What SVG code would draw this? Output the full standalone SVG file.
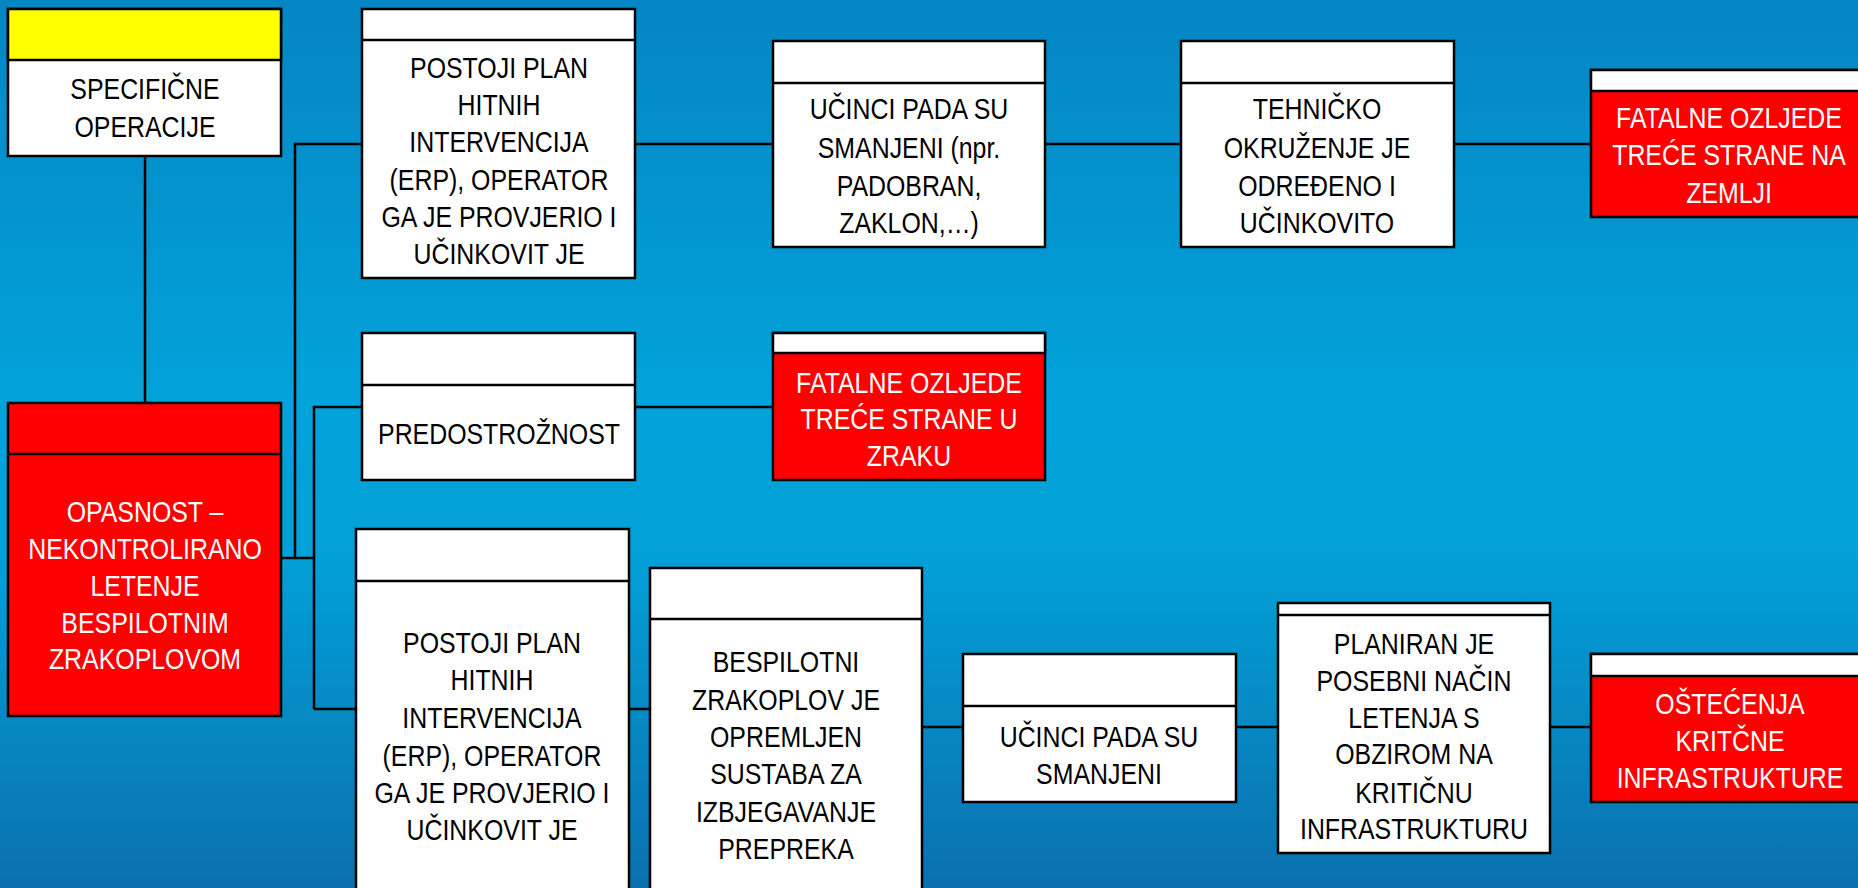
<svg xmlns="http://www.w3.org/2000/svg" width="1858" height="888" viewBox="0 0 1858 888">
<defs>
<linearGradient id="bg" x1="0" y1="0" x2="0" y2="1">
<stop offset="0" stop-color="#0585C3"/>
<stop offset="0.45" stop-color="#02A3DA"/>
<stop offset="0.62" stop-color="#02A1D8"/>
<stop offset="1" stop-color="#0A70AE"/>
</linearGradient>
</defs>
<style>
.box{stroke:#000;stroke-width:2.5}
.w{fill:#fff}.r{fill:#f00}.y{fill:#ff0}
.t{font-family:"Liberation Sans",Arial,sans-serif;font-size:30px;text-anchor:middle;fill:#000}
.tw{fill:#fff}
.c{stroke:#000;stroke-width:2.5;fill:none}
</style>
<rect width="1858" height="888" fill="url(#bg)"/>
<g id="connectors">
<path class="c" d="M145 156V403"/>
<path class="c" d="M281 558H314M295 558V144H362"/>
<path class="c" d="M314 709V407H362M314 709H356"/>
<path class="c" d="M635 144H773M1045 144H1181M1454 144H1591"/>
<path class="c" d="M635 407H773"/>
<path class="c" d="M629 709H650"/>
<path class="c" d="M922 727H963M1236 727H1278M1550 727H1591"/>
</g>
<g id="n_specificne">
<rect class="box w" x="8" y="9" width="273" height="147"/>
<rect class="box y" x="8" y="9" width="273" height="51"/>
<text class="t" transform="translate(145 0) scale(0.83 1)"><tspan x="0" y="99">SPECIFIČNE</tspan><tspan x="0" y="137">OPERACIJE</tspan></text>
</g>
<g id="n_opasnost">
<rect class="box r" x="8" y="403" width="273" height="313"/>
<line class="box" x1="8" y1="454" x2="281" y2="454"/>
<text class="t tw" transform="translate(145 0) scale(0.83 1)"><tspan x="0" y="522">OPASNOST –</tspan><tspan x="0" y="559">NEKONTROLIRANO</tspan><tspan x="0" y="596">LETENJE</tspan><tspan x="0" y="633">BESPILOTNIM</tspan><tspan x="0" y="669">ZRAKOPLOVOM</tspan></text>
</g>
<g id="n_postoji1">
<rect class="box w" x="362" y="9" width="273" height="269"/>
<line class="box" x1="362" y1="40" x2="635" y2="40"/>
<text class="t" transform="translate(499 0) scale(0.83 1)"><tspan x="0" y="78">POSTOJI PLAN</tspan><tspan x="0" y="115">HITNIH</tspan><tspan x="0" y="152">INTERVENCIJA</tspan><tspan x="0" y="190">(ERP), OPERATOR</tspan><tspan x="0" y="227">GA JE PROVJERIO I</tspan><tspan x="0" y="264">UČINKOVIT JE</tspan></text>
</g>
<g id="n_ucinci1">
<rect class="box w" x="773" y="41" width="272" height="206"/>
<line class="box" x1="773" y1="83" x2="1045" y2="83"/>
<text class="t" transform="translate(909 0) scale(0.83 1)"><tspan x="0" y="119">UČINCI PADA SU</tspan><tspan x="0" y="158">SMANJENI (npr.</tspan><tspan x="0" y="196">PADOBRAN,</tspan><tspan x="0" y="233">ZAKLON,…)</tspan></text>
</g>
<g id="n_tehnicko">
<rect class="box w" x="1181" y="41" width="273" height="206"/>
<line class="box" x1="1181" y1="83" x2="1454" y2="83"/>
<text class="t" transform="translate(1317 0) scale(0.83 1)"><tspan x="0" y="119">TEHNIČKO</tspan><tspan x="0" y="158">OKRUŽENJE JE</tspan><tspan x="0" y="196">ODREĐENO I</tspan><tspan x="0" y="233">UČINKOVITO</tspan></text>
</g>
<g id="n_fatalne_zemlja">
<rect class="box r" x="1591" y="70" width="276" height="147"/>
<rect class="box w" x="1591" y="70" width="276" height="21"/>
<text class="t tw" transform="translate(1729 0) scale(0.83 1)"><tspan x="0" y="128">FATALNE OZLJEDE</tspan><tspan x="0" y="165">TREĆE STRANE NA</tspan><tspan x="0" y="203">ZEMLJI</tspan></text>
</g>
<g id="n_predostroznost">
<rect class="box w" x="362" y="333" width="273" height="147"/>
<line class="box" x1="362" y1="385" x2="635" y2="385"/>
<text class="t" transform="translate(499 0) scale(0.83 1)"><tspan x="0" y="444">PREDOSTROŽNOST</tspan></text>
</g>
<g id="n_fatalne_zrak">
<rect class="box r" x="773" y="333" width="272" height="147"/>
<rect class="box w" x="773" y="333" width="272" height="20"/>
<text class="t tw" transform="translate(909 0) scale(0.83 1)"><tspan x="0" y="393">FATALNE OZLJEDE</tspan><tspan x="0" y="429">TREĆE STRANE U</tspan><tspan x="0" y="466">ZRAKU</tspan></text>
</g>
<g id="n_postoji2">
<rect class="box w" x="356" y="529" width="273" height="362"/>
<line class="box" x1="356" y1="581" x2="629" y2="581"/>
<text class="t" transform="translate(492 0) scale(0.83 1)"><tspan x="0" y="653">POSTOJI PLAN</tspan><tspan x="0" y="690">HITNIH</tspan><tspan x="0" y="728">INTERVENCIJA</tspan><tspan x="0" y="766">(ERP), OPERATOR</tspan><tspan x="0" y="803">GA JE PROVJERIO I</tspan><tspan x="0" y="840">UČINKOVIT JE</tspan></text>
</g>
<g id="n_bespilotni">
<rect class="box w" x="650" y="568" width="272" height="323"/>
<line class="box" x1="650" y1="619" x2="922" y2="619"/>
<text class="t" transform="translate(786 0) scale(0.83 1)"><tspan x="0" y="672">BESPILOTNI</tspan><tspan x="0" y="710">ZRAKOPLOV JE</tspan><tspan x="0" y="747">OPREMLJEN</tspan><tspan x="0" y="784">SUSTABA ZA</tspan><tspan x="0" y="822">IZBJEGAVANJE</tspan><tspan x="0" y="859">PREPREKA</tspan></text>
</g>
<g id="n_ucinci2">
<rect class="box w" x="963" y="654" width="273" height="148"/>
<line class="box" x1="963" y1="706" x2="1236" y2="706"/>
<text class="t" transform="translate(1099 0) scale(0.83 1)"><tspan x="0" y="747">UČINCI PADA SU</tspan><tspan x="0" y="784">SMANJENI</tspan></text>
</g>
<g id="n_planiran">
<rect class="box w" x="1278" y="603" width="272" height="250"/>
<line class="box" x1="1278" y1="615" x2="1550" y2="615"/>
<text class="t" transform="translate(1414 0) scale(0.83 1)"><tspan x="0" y="654">PLANIRAN JE</tspan><tspan x="0" y="691">POSEBNI NAČIN</tspan><tspan x="0" y="728">LETENJA S</tspan><tspan x="0" y="764">OBZIROM NA</tspan><tspan x="0" y="803">KRITIČNU</tspan><tspan x="0" y="839">INFRASTRUKTURU</tspan></text>
</g>
<g id="n_ostecenja">
<rect class="box r" x="1591" y="654" width="276" height="148"/>
<rect class="box w" x="1591" y="654" width="276" height="22"/>
<text class="t tw" transform="translate(1730 0) scale(0.83 1)"><tspan x="0" y="714">OŠTEĆENJA</tspan><tspan x="0" y="751">KRITČNE</tspan><tspan x="0" y="788">INFRASTRUKTURE</tspan></text>
</g>
</svg>
